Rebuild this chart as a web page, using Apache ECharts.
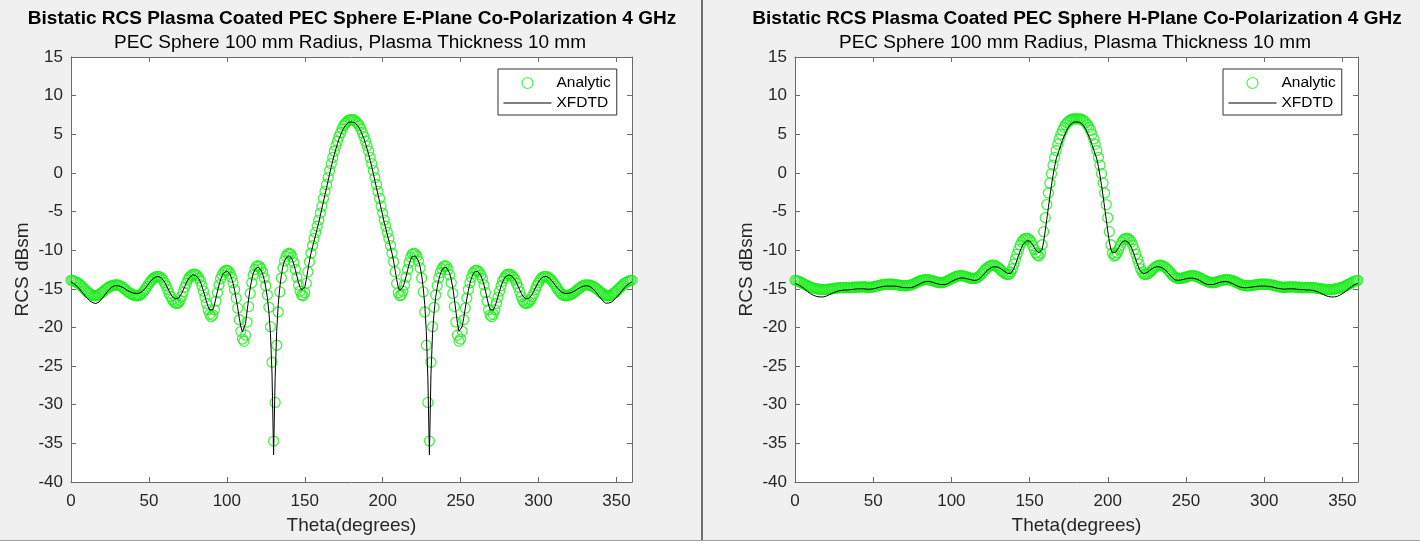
<!DOCTYPE html>
<html>
<head>
<meta charset="utf-8">
<script src="https://cdn.jsdelivr.net/npm/echarts@6/dist/echarts.min.js"></script>
<style>
html,body{margin:0;padding:0;background:#f0f0f0;}
#chart{width:1420px;height:544px;}
</style>
</head>
<body>
<div id="chart"></div>
<script>
// ---------------- DATA ----------------
const leftTitle = 'Bistatic RCS Plasma Coated PEC Sphere E-Plane Co-Polarization 4 GHz';
const rightTitle = 'Bistatic RCS Plasma Coated PEC Sphere H-Plane Co-Polarization 4 GHz';
const subTitle = 'PEC Sphere 100 mm Radius, Plasma Thickness 10 mm';
const xName = 'Theta(degrees)';
const yName = 'RCS dBsm';
const seriesNames = ['Analytic', 'XFDTD'];

// theta sample positions, 0..360 degrees, 1 degree apart
const theta = [];
for (let t = 0; t <= 360; t++) theta.push(t);

// E-plane, analytic (circles)
const ePlaneAnalytic = [
-13.9,-13.9,-14.0,-14.1,-14.2,-14.3,-14.5,-14.7,-14.9,-15.1,
-15.3,-15.5,-15.6,-15.75,-15.85,-15.9,-15.9,-15.85,-15.75,-15.6,
-15.45,-15.3,-15.1,-14.95,-14.8,-14.7,-14.6,-14.55,-14.5,-14.5,
-14.5,-14.55,-14.65,-14.8,-14.95,-15.1,-15.3,-15.45,-15.6,-15.7,
-15.8,-15.85,-15.9,-15.9,-15.85,-15.7,-15.5,-15.25,-14.95,-14.65,
-14.35,-14.05,-13.8,-13.6,-13.5,-13.4,-13.4,-13.45,-13.6,-13.85,
-14.2,-14.6,-15.1,-15.6,-16.0,-16.4,-16.7,-16.85,-16.9,-16.8,
-16.5,-16.0,-15.4,-14.8,-14.3,-13.85,-13.5,-13.3,-13.15,-13.1,
-13.15,-13.3,-13.6,-14.0,-14.6,-15.3,-16.1,-16.9,-17.7,-18.3,
-18.6,-18.4,-17.7,-16.6,-15.5,-14.5,-13.7,-13.2,-12.85,-12.65,
-12.6,-12.7,-13.0,-13.5,-14.2,-15.1,-16.2,-17.5,-19.0,-20.5,
-21.5,-21.8,-21.0,-19.3,-17.3,-15.6,-14.2,-13.2,-12.5,-12.1,
-12.0,-12.1,-12.4,-12.9,-13.6,-14.6,-15.8,-17.4,-19.9,-24.5,
-34.7,-29.7,-22.3,-18.0,-15.4,-13.6,-12.3,-11.4,-10.8,-10.5,
-10.4,-10.5,-10.9,-11.6,-12.5,-13.5,-14.5,-15.3,-15.8,-15.9,
-15.5,-14.3,-12.8,-11.5,-10.4,-9.4,-8.5,-7.7,-6.9,-6.1,
-5.2,-4.3,-3.3,-2.4,-1.5,-0.6,0.3,1.2,2.0,2.8,
3.5,4.1,4.7,5.2,5.7,6.1,6.4,6.6,6.8,6.9,
6.9,
6.9,6.8,6.6,6.4,6.1,5.7,5.2,4.7,4.1,3.5,
2.8,2.0,1.2,0.3,-0.6,-1.5,-2.4,-3.3,-4.3,-5.2,
-6.1,-6.9,-7.7,-8.5,-9.4,-10.4,-11.5,-12.8,-14.3,-15.5,
-15.9,-15.8,-15.3,-14.5,-13.5,-12.5,-11.6,-10.9,-10.5,-10.4,
-10.5,-10.8,-11.4,-12.3,-13.6,-15.4,-18.0,-22.3,-29.7,-34.7,
-24.5,-19.9,-17.4,-15.8,-14.6,-13.6,-12.9,-12.4,-12.1,-12.0,
-12.1,-12.5,-13.2,-14.2,-15.6,-17.3,-19.3,-21.0,-21.8,-21.5,
-20.5,-19.0,-17.5,-16.2,-15.1,-14.2,-13.5,-13.0,-12.7,-12.6,
-12.65,-12.85,-13.2,-13.7,-14.5,-15.5,-16.6,-17.7,-18.4,-18.6,
-18.3,-17.7,-16.9,-16.1,-15.3,-14.6,-14.0,-13.6,-13.3,-13.15,
-13.1,-13.15,-13.3,-13.5,-13.85,-14.3,-14.8,-15.4,-16.0,-16.5,
-16.8,-16.9,-16.85,-16.7,-16.4,-16.0,-15.6,-15.1,-14.6,-14.2,
-13.85,-13.6,-13.45,-13.4,-13.4,-13.5,-13.6,-13.8,-14.05,-14.35,
-14.65,-14.95,-15.25,-15.5,-15.7,-15.85,-15.9,-15.9,-15.85,-15.8,
-15.7,-15.6,-15.45,-15.3,-15.1,-14.95,-14.8,-14.65,-14.55,-14.5,
-14.5,-14.5,-14.55,-14.6,-14.7,-14.8,-14.95,-15.1,-15.3,-15.45,
-15.6,-15.75,-15.85,-15.9,-15.9,-15.85,-15.75,-15.6,-15.5,-15.3,
-15.1,-14.9,-14.7,-14.5,-14.3,-14.2,-14.1,-14.0,-13.9,-13.9
];

// E-plane, XFDTD (line)
const ePlaneXfdtd = [
-14.1,-14.2,-14.35,-14.5,-14.7,-14.9,-15.15,-15.4,-15.65,-15.9,
-16.15,-16.35,-16.55,-16.7,-16.8,-16.85,-16.9,-16.85,-16.7,-16.5,
-16.25,-16.0,-15.7,-15.45,-15.2,-15.0,-14.8,-14.7,-14.6,-14.6,
-14.6,-14.65,-14.7,-14.8,-14.9,-15.05,-15.2,-15.3,-15.4,-15.5,
-15.55,-15.6,-15.6,-15.6,-15.55,-15.45,-15.3,-15.1,-14.85,-14.6,
-14.3,-14.05,-13.8,-13.6,-13.5,-13.4,-13.4,-13.45,-13.6,-13.8,
-14.1,-14.5,-14.9,-15.3,-15.7,-16.0,-16.2,-16.3,-16.3,-16.2,
-15.95,-15.6,-15.15,-14.7,-14.25,-13.85,-13.55,-13.35,-13.2,-13.2,
-13.25,-13.4,-13.7,-14.1,-14.65,-15.3,-16.0,-16.7,-17.3,-17.75,
-17.9,-17.7,-17.1,-16.2,-15.3,-14.5,-13.8,-13.3,-12.95,-12.75,
-12.7,-12.8,-13.1,-13.6,-14.3,-15.2,-16.3,-17.5,-18.8,-19.9,
-20.6,-20.5,-19.5,-17.9,-16.3,-14.9,-13.8,-13.0,-12.5,-12.25,
-12.2,-12.3,-12.6,-13.1,-13.8,-14.8,-16.1,-18.0,-20.8,-26.0,
-36.5,-26.5,-20.5,-17.0,-14.8,-13.2,-12.1,-11.4,-11.0,-10.75,
-10.7,-10.8,-11.2,-11.8,-12.6,-13.4,-14.2,-14.8,-15.15,-15.2,
-14.8,-13.8,-12.6,-11.4,-10.4,-9.6,-8.8,-8.0,-7.2,-6.4,
-5.5,-4.6,-3.7,-2.8,-1.9,-1.0,-0.1,0.8,1.6,2.4,
3.1,3.8,4.4,4.9,5.4,5.8,6.1,6.3,6.5,6.6,
6.6,
6.6,6.5,6.3,6.1,5.8,5.4,4.9,4.4,3.8,3.1,
2.4,1.6,0.8,-0.1,-1.0,-1.9,-2.8,-3.7,-4.6,-5.5,
-6.4,-7.2,-8.0,-8.8,-9.6,-10.4,-11.4,-12.6,-13.8,-14.8,
-15.2,-15.15,-14.8,-14.2,-13.4,-12.6,-11.8,-11.2,-10.8,-10.7,
-10.75,-11.0,-11.4,-12.1,-13.2,-14.8,-17.0,-20.5,-26.5,-36.5,
-26.0,-20.8,-18.0,-16.1,-14.8,-13.8,-13.1,-12.6,-12.3,-12.2,
-12.25,-12.5,-13.0,-13.8,-14.9,-16.3,-17.9,-19.5,-20.5,-20.6,
-19.9,-18.8,-17.5,-16.3,-15.2,-14.3,-13.6,-13.1,-12.8,-12.7,
-12.75,-12.95,-13.3,-13.8,-14.5,-15.3,-16.2,-17.1,-17.7,-17.9,
-17.75,-17.3,-16.7,-16.0,-15.3,-14.65,-14.1,-13.7,-13.4,-13.25,
-13.2,-13.2,-13.35,-13.55,-13.85,-14.25,-14.7,-15.15,-15.6,-15.95,
-16.2,-16.3,-16.3,-16.2,-16.0,-15.7,-15.3,-14.9,-14.5,-14.1,
-13.8,-13.6,-13.45,-13.4,-13.4,-13.5,-13.6,-13.8,-14.05,-14.3,
-14.6,-14.85,-15.1,-15.3,-15.45,-15.55,-15.6,-15.6,-15.6,-15.55,
-15.5,-15.4,-15.3,-15.2,-15.05,-14.9,-14.8,-14.7,-14.65,-14.6,
-14.6,-14.6,-14.7,-14.8,-15.0,-15.2,-15.45,-15.7,-16.0,-16.25,
-16.5,-16.7,-16.85,-16.9,-16.85,-16.8,-16.7,-16.55,-16.35,-16.15,
-15.9,-15.65,-15.4,-15.15,-14.9,-14.7,-14.5,-14.35,-14.2,-14.1
];

// H-plane, analytic (circles)
const hPlaneAnalytic = [
-13.9,-13.95,-14.0,-14.1,-14.2,-14.3,-14.4,-14.5,-14.6,-14.7,
-14.8,-14.85,-14.9,-14.95,-15.0,-15.05,-15.05,-15.1,-15.1,-15.1,
-15.1,-15.05,-15.05,-15.0,-15.0,-14.95,-14.9,-14.9,-14.85,-14.85,
-14.85,-14.85,-14.85,-14.85,-14.85,-14.85,-14.85,-14.8,-14.8,-14.8,
-14.8,-14.75,-14.75,-14.75,-14.75,-14.75,-14.8,-14.8,-14.8,-14.8,
-14.75,-14.7,-14.65,-14.6,-14.55,-14.5,-14.45,-14.45,-14.4,-14.4,
-14.4,-14.4,-14.4,-14.4,-14.45,-14.45,-14.5,-14.55,-14.55,-14.6,
-14.6,-14.6,-14.6,-14.55,-14.5,-14.45,-14.35,-14.25,-14.15,-14.05,
-13.95,-13.9,-13.85,-13.8,-13.8,-13.8,-13.85,-13.9,-13.95,-14.0,
-14.1,-14.15,-14.2,-14.2,-14.2,-14.15,-14.1,-14.0,-13.9,-13.8,
-13.7,-13.6,-13.5,-13.4,-13.35,-13.3,-13.3,-13.3,-13.35,-13.4,
-13.5,-13.55,-13.6,-13.65,-13.65,-13.65,-13.6,-13.5,-13.35,-13.15,
-12.9,-12.65,-12.45,-12.25,-12.1,-12.0,-11.95,-11.95,-12.0,-12.1,
-12.25,-12.45,-12.65,-12.85,-13.0,-13.1,-13.15,-13.1,-12.85,-12.4,
-11.8,-11.15,-10.5,-9.9,-9.35,-8.95,-8.65,-8.5,-8.45,-8.5,
-8.65,-8.95,-9.4,-9.9,-10.35,-10.65,-10.75,-10.4,-9.3,-7.6,
-5.8,-4.1,-2.6,-1.3,-0.1,1.0,2.0,2.9,3.7,4.4,
5.0,5.5,5.9,6.25,6.5,6.7,6.85,6.95,7.0,7.0,
7.0,
7.0,7.0,6.95,6.85,6.7,6.5,6.25,5.9,5.5,5.0,
4.4,3.7,2.9,2.0,1.0,-0.1,-1.3,-2.6,-4.1,-5.8,
-7.6,-9.3,-10.4,-10.75,-10.65,-10.35,-9.9,-9.4,-8.95,-8.65,
-8.5,-8.45,-8.5,-8.65,-8.95,-9.35,-9.9,-10.5,-11.15,-11.8,
-12.4,-12.85,-13.1,-13.15,-13.1,-13.0,-12.85,-12.65,-12.45,-12.25,
-12.1,-12.0,-11.95,-11.95,-12.0,-12.1,-12.25,-12.45,-12.65,-12.9,
-13.15,-13.35,-13.5,-13.6,-13.65,-13.65,-13.65,-13.6,-13.55,-13.5,
-13.4,-13.35,-13.3,-13.3,-13.3,-13.35,-13.4,-13.5,-13.6,-13.7,
-13.8,-13.9,-14.0,-14.1,-14.15,-14.2,-14.2,-14.2,-14.15,-14.1,
-14.0,-13.95,-13.9,-13.85,-13.8,-13.8,-13.8,-13.85,-13.9,-13.95,
-14.05,-14.15,-14.25,-14.35,-14.45,-14.5,-14.55,-14.6,-14.6,-14.6,
-14.6,-14.55,-14.55,-14.5,-14.45,-14.45,-14.4,-14.4,-14.4,-14.4,
-14.4,-14.4,-14.45,-14.45,-14.5,-14.55,-14.6,-14.65,-14.7,-14.75,
-14.8,-14.8,-14.8,-14.8,-14.75,-14.75,-14.75,-14.75,-14.75,-14.8,
-14.8,-14.8,-14.8,-14.85,-14.85,-14.85,-14.85,-14.85,-14.85,-14.85,
-14.85,-14.85,-14.9,-14.9,-14.95,-15.0,-15.0,-15.05,-15.05,-15.1,
-15.1,-15.1,-15.1,-15.05,-15.05,-15.0,-14.95,-14.9,-14.85,-14.8,
-14.7,-14.6,-14.5,-14.4,-14.3,-14.2,-14.1,-14.0,-13.95,-13.9
];

// H-plane, XFDTD (line)
const hPlaneXfdtd = [
-14.3,-14.35,-14.45,-14.55,-14.7,-14.85,-15.0,-15.2,-15.35,-15.5,
-15.65,-15.75,-15.85,-15.95,-16.0,-16.05,-16.05,-16.05,-16.05,-16.0,
-15.95,-15.85,-15.75,-15.65,-15.55,-15.45,-15.4,-15.3,-15.25,-15.2,
-15.2,-15.15,-15.15,-15.15,-15.15,-15.1,-15.1,-15.1,-15.05,-15.05,
-15.0,-15.0,-15.0,-15.0,-15.0,-15.0,-15.05,-15.05,-15.05,-15.0,
-15.0,-14.95,-14.9,-14.85,-14.8,-14.75,-14.7,-14.7,-14.65,-14.65,
-14.65,-14.65,-14.65,-14.65,-14.65,-14.7,-14.7,-14.75,-14.8,-14.8,
-14.85,-14.85,-14.85,-14.85,-14.85,-14.8,-14.75,-14.65,-14.55,-14.45,
-14.35,-14.25,-14.15,-14.1,-14.05,-14.05,-14.05,-14.1,-14.15,-14.2,
-14.3,-14.35,-14.4,-14.45,-14.45,-14.45,-14.45,-14.4,-14.3,-14.2,
-14.05,-13.95,-13.85,-13.75,-13.7,-13.65,-13.6,-13.6,-13.6,-13.65,
-13.7,-13.75,-13.8,-13.85,-13.9,-13.9,-13.9,-13.85,-13.7,-13.5,
-13.3,-13.05,-12.8,-12.6,-12.45,-12.3,-12.2,-12.15,-12.15,-12.15,
-12.2,-12.3,-12.45,-12.6,-12.75,-12.9,-13.0,-13.05,-13.0,-12.75,
-12.35,-11.85,-11.25,-10.65,-10.1,-9.6,-9.2,-8.95,-8.8,-8.75,
-8.8,-9.0,-9.3,-9.65,-10.0,-10.25,-10.35,-10.35,-9.9,-8.9,
-7.5,-6.0,-4.5,-3.0,-1.6,-0.3,0.8,1.8,2.4,3.0,
3.6,4.2,4.7,5.2,5.6,5.95,6.25,6.45,6.55,6.6,
6.6,
6.6,6.55,6.45,6.25,5.95,5.6,5.2,4.7,4.2,3.6,
3.0,2.4,1.8,0.8,-0.3,-1.6,-3.0,-4.5,-6.0,-7.5,
-8.9,-9.9,-10.35,-10.35,-10.25,-10.0,-9.65,-9.3,-9.0,-8.8,
-8.75,-8.8,-8.95,-9.2,-9.6,-10.1,-10.65,-11.25,-11.85,-12.35,
-12.75,-13.0,-13.05,-13.0,-12.9,-12.75,-12.6,-12.45,-12.3,-12.2,
-12.15,-12.15,-12.15,-12.2,-12.3,-12.45,-12.6,-12.8,-13.05,-13.3,
-13.5,-13.7,-13.85,-13.9,-13.9,-13.9,-13.85,-13.8,-13.75,-13.7,
-13.65,-13.6,-13.6,-13.6,-13.65,-13.7,-13.75,-13.85,-13.95,-14.05,
-14.2,-14.3,-14.4,-14.45,-14.45,-14.45,-14.45,-14.4,-14.35,-14.3,
-14.2,-14.15,-14.1,-14.05,-14.05,-14.05,-14.1,-14.15,-14.25,-14.35,
-14.45,-14.55,-14.65,-14.75,-14.8,-14.85,-14.85,-14.85,-14.85,-14.85,
-14.8,-14.8,-14.75,-14.7,-14.7,-14.65,-14.65,-14.65,-14.65,-14.65,
-14.65,-14.65,-14.7,-14.7,-14.75,-14.8,-14.85,-14.9,-14.95,-15.0,
-15.0,-15.05,-15.05,-15.05,-15.0,-15.0,-15.0,-15.0,-15.0,-15.0,
-15.05,-15.05,-15.1,-15.1,-15.1,-15.15,-15.15,-15.15,-15.15,-15.2,
-15.2,-15.25,-15.3,-15.4,-15.45,-15.55,-15.65,-15.75,-15.85,-15.95,
-16.0,-16.05,-16.05,-16.05,-16.05,-16.0,-15.95,-15.85,-15.75,-15.65,
-15.5,-15.35,-15.2,-15.0,-14.85,-14.7,-14.55,-14.45,-14.35,-14.3
];

// ---------------- CHART ----------------
const FONT = '"Liberation Sans", Arial, Helvetica, sans-serif';
const GREEN = '#1aee1a';
const AXIS_COLOR = '#6b6b6b';
const TEXT_COLOR = '#262626';
const CLEAR = 'rgba(0,0,0,0)';

function pairs(values) { return theta.map((t, i) => [t, values[i]]); }

function xAxes(gridIndex) {
  const base = { gridIndex, type: 'value', min: 0, max: 360, interval: 50,
    axisLine: { show: true, onZero: false, lineStyle: { color: AXIS_COLOR, width: 1 } },
    axisTick: { show: true, inside: true, length: 5, lineStyle: { color: AXIS_COLOR } },
    splitLine: { show: false } };
  return [
    Object.assign({}, base, { position: 'bottom',
      name: xName, nameLocation: 'middle', nameGap: 34,
      nameTextStyle: { fontFamily: FONT, fontSize: 19, color: TEXT_COLOR },
      axisLabel: { show: true, showMaxLabel: false, margin: 11, fontFamily: FONT, fontSize: 17, color: TEXT_COLOR } }),
    Object.assign({}, base, { position: 'top', axisLabel: { show: false } })
  ];
}
function yAxes(gridIndex) {
  const base = { gridIndex, type: 'value', min: -40, max: 15, interval: 5,
    axisLine: { show: true, onZero: false, lineStyle: { color: AXIS_COLOR, width: 1 } },
    axisTick: { show: true, inside: true, length: 5, lineStyle: { color: AXIS_COLOR } },
    splitLine: { show: false } };
  return [
    Object.assign({}, base, { position: 'left',
      name: yName, nameLocation: 'middle', nameGap: 39, nameRotate: 90,
      nameTextStyle: { fontFamily: FONT, fontSize: 19, color: TEXT_COLOR },
      axisLabel: { show: true, margin: 8, fontFamily: FONT, fontSize: 17, color: TEXT_COLOR } }),
    Object.assign({}, base, { position: 'right', axisLabel: { show: false } })
  ];
}

function titles(cx, main) {
  return [
    { text: main, left: cx, top: 9, textAlign: 'center', padding: 0,
      textStyle: { fontFamily: FONT, fontSize: 19, fontWeight: 'bold', color: '#000', lineHeight: 20 } },
    { text: subTitle, left: cx - 2, top: 33, textAlign: 'center', padding: 0,
      textStyle: { fontFamily: FONT, fontSize: 19, fontWeight: 'normal', color: '#000', lineHeight: 20 } }
  ];
}

function legend(left) {
  return {
    left: left, top: 69, orient: 'vertical', selectedMode: false,
    data: [
      { name: seriesNames[0], itemStyle: { color: CLEAR, borderColor: GREEN, borderWidth: 1.2 } },
      { name: seriesNames[1], itemStyle: { color: CLEAR, borderColor: CLEAR, borderWidth: 0 },
        lineStyle: { color: '#000', width: 1 } }
    ],
    backgroundColor: '#ffffff', borderColor: '#333', borderWidth: 1, borderRadius: 0,
    padding: [6, 6, 4, 5], itemGap: 4, itemWidth: 48, itemHeight: 11,
    textStyle: { fontFamily: FONT, fontSize: 15.5, color: '#000', lineHeight: 16 }
  };
}

function scatterSeries(xi, yi, values) {
  return { name: seriesNames[0], type: 'scatter', xAxisIndex: xi, yAxisIndex: yi,
    data: pairs(values), symbol: 'circle', symbolSize: 10,
    itemStyle: { color: CLEAR, borderColor: GREEN, borderWidth: 1.3 },
    emphasis: { disabled: true }, z: 2, silent: true };
}
function lineSeries(xi, yi, values) {
  return { name: seriesNames[1], type: 'line', xAxisIndex: xi, yAxisIndex: yi,
    data: pairs(values), symbol: 'none', showSymbol: false, smooth: false,
    lineStyle: { color: '#000', width: 1 }, itemStyle: { color: CLEAR },
    emphasis: { disabled: true }, z: 3, silent: true };
}

const option = {
  animation: false,
  backgroundColor: '#f0f0f0',
  title: titles(352, leftTitle).concat(titles(1077, rightTitle)),
  legend: [legend(498), legend(1223)],
  grid: [
    { left: 71, width: 561, top: 57, height: 425, show: true, backgroundColor: '#fff', borderWidth: 0 },
    { left: 795, width: 563, top: 57, height: 425, show: true, backgroundColor: '#fff', borderWidth: 0 }
  ],
  xAxis: xAxes(0).concat(xAxes(1)),
  yAxis: yAxes(0).concat(yAxes(1)),
  graphic: [
    { type: 'rect', shape: { x: 701, y: 0, width: 2, height: 541 }, style: { fill: '#707070' }, z: 100 },
    { type: 'rect', shape: { x: 0, y: 540, width: 1420, height: 1 }, style: { fill: '#a0a0a0' }, z: 100 },
    { type: 'rect', shape: { x: 0, y: 541, width: 1420, height: 3 }, style: { fill: '#ffffff' }, z: 100 }
  ],
  series: [
    scatterSeries(0, 0, ePlaneAnalytic),
    lineSeries(0, 0, ePlaneXfdtd),
    scatterSeries(2, 2, hPlaneAnalytic),
    lineSeries(2, 2, hPlaneXfdtd)
  ]
};

const chart = echarts.init(document.getElementById('chart'), null, { renderer: 'canvas' });
chart.setOption(option);
</script>
</body>
</html>
